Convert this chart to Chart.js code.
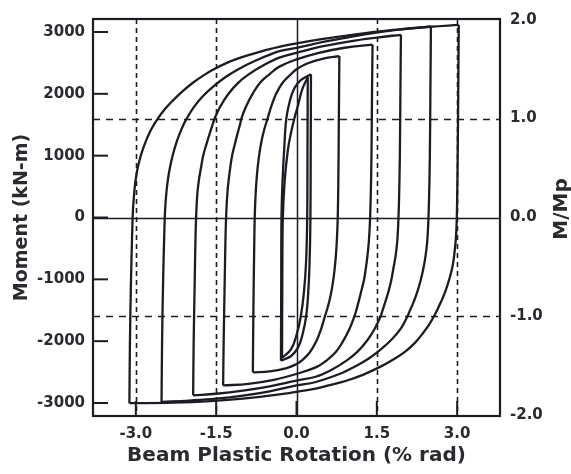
<!DOCTYPE html>
<html>
<head>
<meta charset="utf-8">
<script src="https://cdn.jsdelivr.net/npm/chart.js@4/dist/chart.umd.min.js"></script>
<style>
  html, body { margin: 0; padding: 0; background: #fff; }
  canvas { display: block; }
</style>
</head>
<body>
<canvas id="hysteresisCanvas" width="571" height="474"></canvas>
<script>
var rotationTicks = [-3.0, -1.5, 0.0, 1.5, 3.0];
var momentTicks = [-3000, -2000, -1000, 0, 1000, 2000, 3000];
var ratioTicks = [-2.0, -1.0, 0.0, 1.0, 2.0];
var plasticMoment = 1600; // kN-m at M/Mp = 1.0

// branches: [rotation (% rad), moment (kN-m)]
var up6 = [[-3.12,-3003],[-3.11,-2000],[-3.09,-1000],[-3.07,-300],[-3.055,100],[-3.035,350],[-3.01,570],[-2.975,760],[-2.93,930],[-2.875,1090],[-2.81,1240],[-2.74,1380],[-2.67,1490],[-2.59,1600],[-2.46,1750],[-2.31,1890],[-2.13,2040],[-1.94,2175],[-1.75,2290],[-1.57,2385],[-1.30,2500],[-1.06,2580],[-0.80,2650],[-0.56,2710],[-0.13,2795],[0.5,2890],[1.0,2950],[1.5,3005],[2.0,3048],[2.5,3085],[3.03,3115]];
var down6 = [[3.03,3115],[3.02,2000],[3.01,1000],[3.00,300],[2.99,-100],[2.975,-350],[2.95,-570],[2.92,-760],[2.875,-930],[2.82,-1090],[2.76,-1240],[2.69,-1380],[2.63,-1490],[2.56,-1610],[2.47,-1740],[2.37,-1860],[2.22,-2020],[2.03,-2170],[1.80,-2300],[1.55,-2420],[1.25,-2540],[0.93,-2640],[0.60,-2715],[0.31,-2775],[-0.32,-2860],[-1.0,-2930],[-1.6,-2970],[-2.3,-2995],[-3.12,-3003]];
var up5 = [[-2.52,-2982],[-2.51,-2000],[-2.49,-1000],[-2.47,-300],[-2.455,100],[-2.43,400],[-2.40,620],[-2.36,820],[-2.31,1010],[-2.25,1190],[-2.18,1360],[-2.10,1520],[-2.05,1600],[-1.92,1780],[-1.75,1960],[-1.55,2120],[-1.31,2280],[-1.05,2415],[-0.82,2515],[-0.32,2690],[0,2743],[0.5,2840],[1.0,2920],[1.5,2990],[2.0,3045],[2.51,3090]];
var down5 = [[2.51,3090],[2.50,2000],[2.49,1000],[2.475,300],[2.46,-100],[2.44,-400],[2.41,-620],[2.37,-820],[2.32,-1010],[2.26,-1190],[2.19,-1360],[2.11,-1520],[2.07,-1600],[1.96,-1780],[1.79,-1960],[1.59,-2120],[1.35,-2280],[1.09,-2410],[0.86,-2510],[0.36,-2660],[0,-2716],[-0.5,-2810],[-1.0,-2880],[-1.5,-2930],[-2.0,-2960],[-2.52,-2982]];
var up4 = [[-1.93,-2875],[-1.92,-2000],[-1.90,-1000],[-1.885,-300],[-1.87,100],[-1.85,400],[-1.82,620],[-1.78,820],[-1.74,1010],[-1.68,1190],[-1.62,1360],[-1.56,1520],[-1.53,1600],[-1.42,1800],[-1.28,1990],[-1.10,2170],[-0.90,2310],[-0.60,2470],[-0.32,2585],[0,2663],[0.5,2770],[1.0,2850],[1.5,2910],[1.95,2955]];
var down4 = [[1.95,2955],[1.94,2000],[1.93,1000],[1.915,300],[1.90,-100],[1.88,-400],[1.85,-620],[1.81,-820],[1.77,-1010],[1.72,-1190],[1.66,-1360],[1.60,-1520],[1.57,-1600],[1.46,-1800],[1.32,-1990],[1.14,-2170],[0.94,-2310],[0.64,-2470],[0.36,-2575],[0,-2636],[-0.5,-2730],[-1.0,-2800],[-1.5,-2850],[-1.93,-2875]];
var up3 = [[-1.37,-2716],[-1.36,-2000],[-1.34,-1000],[-1.325,-300],[-1.31,100],[-1.29,400],[-1.265,620],[-1.235,820],[-1.20,1010],[-1.15,1190],[-1.10,1360],[-1.05,1520],[-1.03,1600],[-0.94,1800],[-0.82,2000],[-0.68,2180],[-0.50,2320],[-0.32,2440],[0,2556],[0.4,2660],[0.9,2745],[1.42,2795]];
var down3 = [[1.42,2795],[1.41,2000],[1.40,1000],[1.385,300],[1.37,-100],[1.35,-400],[1.325,-620],[1.295,-820],[1.26,-1010],[1.21,-1190],[1.16,-1360],[1.11,-1520],[1.08,-1600],[0.99,-1800],[0.87,-2000],[0.73,-2180],[0.55,-2320],[0.37,-2420],[0,-2529],[-0.4,-2620],[-0.9,-2690],[-1.37,-2716]];
var up2 = [[-0.815,-2503],[-0.805,-1500],[-0.79,-500],[-0.78,0],[-0.765,350],[-0.745,620],[-0.72,850],[-0.69,1050],[-0.65,1250],[-0.60,1430],[-0.54,1600],[-0.47,1800],[-0.38,2000],[-0.26,2180],[-0.10,2320],[0,2396],[0.2,2490],[0.5,2570],[0.80,2610]];
var down2 = [[0.80,2610],[0.79,1500],[0.78,500],[0.77,0],[0.755,-350],[0.735,-620],[0.71,-850],[0.68,-1050],[0.64,-1250],[0.59,-1430],[0.53,-1600],[0.46,-1800],[0.37,-2000],[0.25,-2180],[0.09,-2320],[0,-2370],[-0.2,-2440],[-0.5,-2490],[-0.815,-2503]];
var up1 = [[-0.29,-2316],[-0.285,-1000],[-0.28,0],[-0.26,600],[-0.23,1100],[-0.19,1600],[-0.12,1900],[-0.04,2090],[0.08,2220],[0.27,2316]];
var down1 = [[0.27,2316],[0.265,1000],[0.26,0],[0.245,-700],[0.22,-1200],[0.18,-1600],[0.11,-1900],[0.03,-2100],[-0.1,-2240],[-0.29,-2316]];
var up1b = [[-0.27,-2270],[-0.265,-1000],[-0.255,0],[-0.22,600],[-0.16,1100],[-0.10,1380],[-0.04,1600],[0.03,1820],[0.11,2080],[0.21,2270]];
var down1b = [[0.21,2270],[0.205,1000],[0.20,0],[0.18,-700],[0.14,-1200],[0.08,-1600],[0.0,-1900],[-0.10,-2130],[-0.27,-2270]];

var branches = [up6, down6, up5, down5, up4, down4, up3, down3, up2, down2, up1, down1, up1b, down1b];

var yLimit = 3210;
var inkColor = '#1c1c24';
var tickFont = { family: 'DejaVu Sans', size: 15, weight: 'bold' };
var titleFont = { family: 'DejaVu Sans', size: 20, weight: 'bold' };

var datasets = branches.map(function(pts){
    return {
        data: pts.map(function(p){ return { x: p[0], y: p[1] }; }),
        showLine: true,
        borderColor: inkColor,
        borderWidth: 2.3,
        pointRadius: 0,
        tension: 0.4,
        fill: false
    };
});

var frameDecor = {
    id: 'frameDecor',
    beforeDatasetsDraw: function(chart){
        var ctx = chart.ctx, a = chart.chartArea, sx = chart.scales.x, sr = chart.scales.y2;
        ctx.save();
        ctx.strokeStyle = inkColor;
        ctx.lineWidth = 1.6;
        ctx.setLineDash([5, 4]);
        rotationTicks.forEach(function(v){
            if (v === 0) return;
            var px = Math.round(sx.getPixelForValue(v)) + 0.5;
            ctx.beginPath(); ctx.moveTo(px, a.top); ctx.lineTo(px, a.bottom); ctx.stroke();
        });
        ctx.setLineDash([7, 6]);
        ratioTicks.forEach(function(v){
            if (v === 0 || Math.abs(v) === 2) return;
            var py = Math.round(sr.getPixelForValue(v)) + 0.5;
            ctx.beginPath(); ctx.moveTo(a.left, py); ctx.lineTo(a.right, py); ctx.stroke();
        });
        ctx.setLineDash([]);
        ctx.lineWidth = 1.5;
        var x0 = Math.round(sx.getPixelForValue(0)) + 0.5;
        var y0 = Math.round(chart.scales.y.getPixelForValue(0)) + 0.5;
        ctx.beginPath(); ctx.moveTo(x0, a.top); ctx.lineTo(x0, a.bottom); ctx.stroke();
        ctx.beginPath(); ctx.moveTo(a.left, y0); ctx.lineTo(a.right, y0); ctx.stroke();
        ctx.restore();
    },
    afterDatasetsDraw: function(chart){
        var ctx = chart.ctx, a = chart.chartArea, sx = chart.scales.x, sy = chart.scales.y;
        ctx.save();
        ctx.strokeStyle = inkColor;
        ctx.lineWidth = 2.2;
        ctx.strokeRect(a.left, a.top, a.right - a.left, a.bottom - a.top);
        ctx.lineWidth = 2;
        momentTicks.forEach(function(v){
            var py = sy.getPixelForValue(v);
            ctx.beginPath(); ctx.moveTo(a.left, py); ctx.lineTo(a.left + 15, py); ctx.stroke();
        });
        rotationTicks.forEach(function(v){
            var px = sx.getPixelForValue(v);
            ctx.beginPath(); ctx.moveTo(px, a.bottom); ctx.lineTo(px, a.bottom - 15); ctx.stroke();
        });
        // right axis title reads bottom to top
        ctx.translate(562, 209);
        ctx.rotate(-Math.PI / 2);
        ctx.fillStyle = '#2a2a30';
        ctx.font = 'bold 20px "DejaVu Sans"';
        ctx.textAlign = 'center';
        ctx.textBaseline = 'middle';
        ctx.fillText('M/Mp', 0, 0);
        ctx.restore();
    }
};

var ctx = document.getElementById('hysteresisCanvas').getContext('2d');
var hysteresisChart = new Chart(ctx, {
    type: 'scatter',
    data: { datasets: datasets },
    plugins: [frameDecor],
    options: {
        responsive: false,
        animation: false,
        devicePixelRatio: 1,
        layout: { padding: { top: 14, left: 0, right: 0, bottom: 0 } },
        plugins: { legend: { display: false }, tooltip: { enabled: false } },
        scales: {
            x: {
                type: 'linear', position: 'bottom', min: -3.8, max: 3.8,
                afterBuildTicks: function(axis){ axis.ticks = rotationTicks.map(function(v){ return { value: v }; }); },
                afterFit: function(axis){ axis.height = 58; },
                grid: { display: false, drawTicks: false },
                border: { display: false },
                ticks: { padding: 9, color: '#2a2a30', font: tickFont, maxRotation: 0,
                    callback: function(v){ return Number(v).toFixed(1); } },
                title: { display: true, text: 'Beam Plastic Rotation (% rad)', color: '#2a2a30', font: titleFont, padding: { top: 0, bottom: 6 } }
            },
            y: {
                type: 'linear', position: 'left', min: -yLimit, max: yLimit,
                afterBuildTicks: function(axis){ axis.ticks = momentTicks.map(function(v){ return { value: v }; }); },
                afterFit: function(axis){ axis.width = 93; },
                grid: { display: false, drawTicks: false },
                border: { display: false },
                ticks: { padding: 8, color: '#2a2a30', font: tickFont,
                    callback: function(v){ return String(v); } },
                title: { display: true, text: 'Moment (kN-m)', color: '#2a2a30',
                    font: { family: 'DejaVu Sans', size: 19, weight: 'bold' }, padding: { top: 11, bottom: 0 } }
            },
            y2: {
                type: 'linear', position: 'right', min: -yLimit / plasticMoment, max: yLimit / plasticMoment,
                afterBuildTicks: function(axis){ axis.ticks = ratioTicks.map(function(v){ return { value: v }; }); },
                afterFit: function(axis){ axis.width = 71; },
                grid: { display: false, drawTicks: false },
                border: { display: false },
                ticks: { padding: 10, color: '#2a2a30', font: tickFont,
                    callback: function(v){ return Number(v).toFixed(1); } }
            }
        }
    }
});
</script>
</body>
</html>
